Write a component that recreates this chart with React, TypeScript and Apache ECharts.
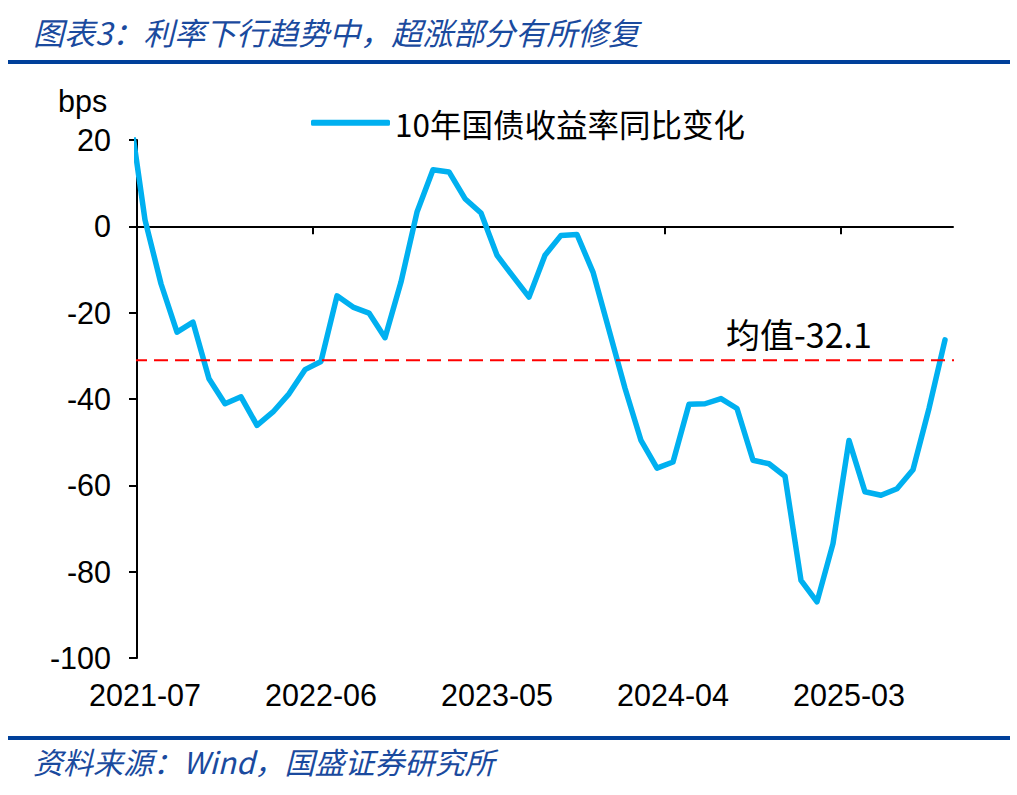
import React, { useEffect, useRef } from 'react';
import * as echarts from 'echarts';

// Months (first one lies just before the axis start and is clipped by the plot area)
const months = [
  '2021-06', '2021-07', '2021-08', '2021-09', '2021-10', '2021-11', '2021-12',
  '2022-01', '2022-02', '2022-03', '2022-04', '2022-05', '2022-06', '2022-07', '2022-08', '2022-09', '2022-10', '2022-11', '2022-12',
  '2023-01', '2023-02', '2023-03', '2023-04', '2023-05', '2023-06', '2023-07', '2023-08', '2023-09', '2023-10', '2023-11', '2023-12',
  '2024-01', '2024-02', '2024-03', '2024-04', '2024-05', '2024-06', '2024-07', '2024-08', '2024-09', '2024-10', '2024-11', '2024-12',
  '2025-01', '2025-02', '2025-03', '2025-04', '2025-05', '2025-06', '2025-07', '2025-08', '2025-09',
];

// 10-year government bond yield, year-on-year change (bps)
const yoyChange = [
  27.5,
  1.5, -13.3, -24.5, -22.2, -35.3, -41.1,
  -39.5, -46.1, -43.0, -38.8, -33.2, -31.3, -16.1, -18.7, -20.1, -25.8, -12.9, 3.3,
  13.1, 12.6, 6.4, 3.1, -6.7, -11.6, -16.4, -6.7, -2.1, -1.9, -10.6, -24.0,
  -37.5, -49.6, -56.0, -54.6, -41.2, -41.1, -39.9, -42.2, -54.2, -55.0, -57.9, -82.0,
  -87.0, -73.5, -49.6, -61.5, -62.3, -60.8, -56.4, -42.2, -26.3,
];

const axisStartMonth = '2021-07';
const tickMonths = ['2021-07', '2022-06', '2023-05', '2024-04', '2025-03'];
const meanLineValue = -31;
const meanLabel = '均值-32.1';
const seriesName = '10年国债收益率同比变化';
const yMin = -100;
const yMax = 20;
const yStep = 20;

const titleText = '图表3：利率下行趋势中，超涨部分有所修复';
const sourceText = '资料来源：Wind，国盛证券研究所';
const unitText = 'bps';

const LATIN = '"Liberation Sans", Arial, sans-serif';
const CJK = '"Noto Sans CJK SC", "Noto Sans", sans-serif';
const BRAND_BLUE = '#00409A';
const TEXT_BLUE = '#1A4A9E';

export default function App() {
  const ref = useRef<HTMLDivElement>(null);

  useEffect(() => {
    if (!ref.current) return;
    const chart = echarts.init(ref.current, null, { renderer: 'svg' });

    const startIdx = months.indexOf(axisStartMonth);
    const nSlots = months.length - startIdx;
    const lineData = yoyChange.map((v, i) => [i - startIdx + 0.5, v]);
    const tickPos = tickMonths.map((m) => months.indexOf(m) - startIdx);
    const labelPos = tickPos.map((p) => p + 0.5);

    chart.setOption({
      animation: false,
      backgroundColor: '#ffffff',
      grid: { left: 137, right: 64, top: 140, bottom: 137, containLabel: false },
      legend: {
        data: [seriesName],
        left: 311,
        top: 107,
        padding: 0,
        icon: 'roundRect',
        itemWidth: 79,
        itemHeight: 6,
        textStyle: { fontSize: 31.5, fontFamily: CJK, color: '#000' },
      },
      xAxis: [
        {
          type: 'value',
          min: 0,
          max: nSlots,
          interval: 11,
          axisLine: { show: true, onZero: true, lineStyle: { color: '#000', width: 2 } },
          axisTick: {
            show: true,
            inside: false,
            length: 8,
            customValues: tickPos,
            lineStyle: { color: '#000', width: 2 },
          },
          axisLabel: { show: false },
          splitLine: { show: false },
        },
        {
          type: 'value',
          min: 0,
          max: nSlots,
          interval: 11,
          position: 'bottom',
          axisLine: { show: false, onZero: false },
          axisTick: { show: false },
          axisLabel: {
            show: true,
            customValues: labelPos,
            formatter: (v: number) => months[Math.round(v - 0.5) + startIdx],
            fontSize: 30.5,
            fontFamily: LATIN,
            color: '#000',
            margin: 21,
          },
          splitLine: { show: false },
        },
      ],
      yAxis: {
        type: 'value',
        min: yMin,
        max: yMax,
        interval: yStep,
        axisLine: { show: true, onZero: false, lineStyle: { color: '#000', width: 2 } },
        axisTick: { show: true, inside: false, length: 8, lineStyle: { color: '#000', width: 2 } },
        axisLabel: { fontSize: 30.5, fontFamily: LATIN, color: '#000', margin: 26 },
        splitLine: { show: false },
      },
      series: [
        {
          name: seriesName,
          type: 'line',
          xAxisIndex: 0,
          data: lineData,
          symbol: 'none',
          showSymbol: false,
          clip: true,
          color: '#00B0F0',
          lineStyle: { color: '#00B0F0', width: 5.5, cap: 'round', join: 'round' },
          z: 3,
        },
        {
          name: '均值',
          type: 'line',
          xAxisIndex: 0,
          data: [
            [-0.25, meanLineValue],
            [nSlots + 0.6, meanLineValue],
          ],
          symbol: 'none',
          showSymbol: false,
          clip: false,
          silent: true,
          color: '#FF0000',
          lineStyle: { color: '#FF0000', width: 2, type: [14, 7] },
          z: 4,
        },
      ],
      graphic: [
        {
          type: 'text',
          x: 33,
          y: 31,
          style: {
            text: titleText,
            fontSize: 31,
            fontStyle: 'italic',
            fontFamily: CJK,
            fill: TEXT_BLUE,
            verticalAlign: 'middle',
          },
        },
        { type: 'rect', shape: { x: 8, y: 60, width: 1002, height: 4 }, style: { fill: BRAND_BLUE } },
        { type: 'rect', shape: { x: 8, y: 736, width: 1002, height: 4 }, style: { fill: BRAND_BLUE } },
        {
          type: 'text',
          x: 33,
          y: 761,
          style: {
            text: sourceText,
            fontSize: 30,
            fontStyle: 'italic',
            fontFamily: CJK,
            fill: TEXT_BLUE,
            verticalAlign: 'middle',
          },
        },
        {
          type: 'text',
          x: 58,
          y: 101,
          style: { text: unitText, fontSize: 30.5, fontFamily: LATIN, fill: '#000', verticalAlign: 'middle' },
        },
        {
          type: 'text',
          x: 726,
          y: 333,
          style: { text: meanLabel, fontSize: 34, fontFamily: CJK, fill: '#000', verticalAlign: 'middle' },
        },
      ],
    });

    return () => chart.dispose();
  }, []);

  return (
    <div
      ref={ref}
      style={{ position: 'fixed', left: 0, top: 0, width: 1017, height: 795, background: '#fff' }}
    />
  );
}
